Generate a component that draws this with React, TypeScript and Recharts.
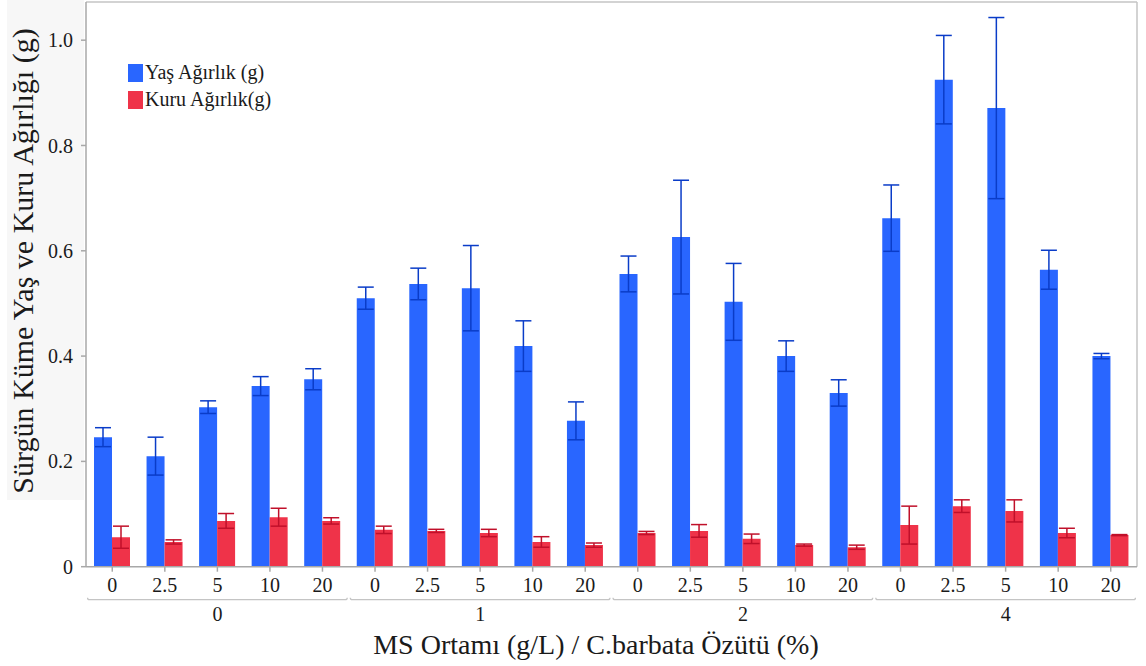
import { Bar, BarChart, CartesianGrid, ErrorBar, Label, Legend, XAxis, YAxis } from 'recharts';

const groups = ['0', '1', '2', '4'];
const extracts = ['0', '2.5', '5', '10', '20'];

const wetWeight = [
  0.246, 0.21, 0.303, 0.343, 0.356,
  0.51, 0.537, 0.529, 0.419, 0.277,
  0.556, 0.626, 0.503, 0.4, 0.33,
  0.662, 0.925, 0.871, 0.564, 0.4,
];
const wetError = [
  0.018, 0.036, 0.012, 0.018, 0.02,
  0.021, 0.03, 0.081, 0.048, 0.036,
  0.034, 0.108, 0.073, 0.029, 0.025,
  0.063, 0.084, 0.172, 0.037, 0.005,
];
const dryWeight = [
  0.056, 0.047, 0.087, 0.094, 0.087,
  0.07, 0.068, 0.064, 0.047, 0.041,
  0.064, 0.068, 0.053, 0.041, 0.037,
  0.079, 0.115, 0.106, 0.064, 0.06,
];
const dryError = [
  0.021, 0.004, 0.014, 0.017, 0.006,
  0.007, 0.003, 0.007, 0.01, 0.004,
  0.003, 0.012, 0.009, 0.002, 0.004,
  0.036, 0.012, 0.021, 0.009, 0.001,
];

const yTicks = [0, 0.2, 0.4, 0.6, 0.8, 1.0];
const seriesOrder = ['wet', 'dry'];

const WIDTH = 1146;
const HEIGHT = 666;
const LEFT = 86;
const RIGHT = 9;
const PLOT_W = WIDTH - LEFT - RIGHT;
const BAND = PLOT_W / (groups.length * extracts.length);
const FONT = '"Liberation Serif", "Times New Roman", serif';
const TEXT = '#1a1a1a';
const FRAME = '#c4c4c4';

const rows = groups.flatMap((g, gi) =>
  extracts.map((e, ei) => {
    const i = gi * extracts.length + ei;
    return {
      id: `${g}-${e}`,
      group: g,
      extract: e,
      wet: wetWeight[i],
      wetErr: wetError[i],
      dry: dryWeight[i],
      dryErr: dryError[i],
    };
  }),
);

function XTick(props: any) {
  const { x, y, payload } = props;
  const i = payload.index;
  const row = rows[i];
  const pos = i % extracts.length;
  const x0 = x - BAND / 2 + 1.5;
  const x1 = x - BAND / 2 + BAND * extracts.length - 1.5;
  const by = y + 28;
  return (
    <g>
      <text x={x} y={y + 20} textAnchor="middle" fontFamily={FONT} fontSize={20} fill={TEXT}>
        {row.extract}
      </text>
      {pos === 0 && (
        <path
          d={`M${x0},${by - 2} Q${x0},${by} ${x0 + 2},${by} L${x1 - 2},${by} Q${x1},${by} ${x1},${by - 2}`}
          fill="none"
          stroke={FRAME}
          strokeWidth={1.2}
        />
      )}
      {pos === 2 && (
        <text x={x} y={y + 49} textAnchor="middle" fontFamily={FONT} fontSize={20} fill={TEXT}>
          {row.group}
        </text>
      )}
    </g>
  );
}

function LegendBox(props: any) {
  const items = [...(props.payload || [])].sort(
    (a: any, b: any) => seriesOrder.indexOf(a.dataKey) - seriesOrder.indexOf(b.dataKey),
  );
  return (
    <div style={{ fontFamily: FONT, fontSize: 20, color: TEXT }}>
      {items.map((entry: any) => (
        <div key={entry.value} style={{ display: 'flex', alignItems: 'center', height: 27 }}>
          <span style={{ display: 'inline-block', width: 15, height: 18, background: entry.color, marginRight: 2 }} />
          <span>{entry.value}</span>
        </div>
      ))}
    </div>
  );
}

export default function App() {
  return (
    <div style={{ position: 'fixed', left: 0, top: 0, width: WIDTH, height: HEIGHT, background: '#fff' }}>
      <div style={{ position: 'absolute', left: 7, top: 0, width: 77, height: 500, background: '#f7f7f7' }} />
      <div style={{ position: 'absolute', left: 0, top: 0 }}>
        <BarChart
          width={WIDTH}
          height={HEIGHT}
          data={rows}
          margin={{ top: 2, right: RIGHT, bottom: 0, left: 0 }}
          barSize={18}
          barGap={0}
        >
          <CartesianGrid
            stroke={FRAME}
            strokeWidth={1.5}
            horizontalCoordinatesGenerator={({ offset }: any) => [offset.top]}
            verticalCoordinatesGenerator={({ offset }: any) => [offset.left + offset.width]}
          />
          <XAxis
            dataKey="id"
            interval={0}
            height={99.3}
            tickSize={5}
            tickMargin={0}
            stroke="#a8a8a8"
            strokeWidth={1.5}
            tick={<XTick />}
          >
            <Label
              value="MS Ortamı (g/L) / C.barbata Özütü (%)"
              content={() => (
                <text x={596} y={654} textAnchor="middle" fontFamily={FONT} fontSize={28} fill={TEXT}>
                  MS Ortamı (g/L) / C.barbata Özütü (%)
                </text>
              )}
            />
          </XAxis>
          <YAxis
            width={LEFT}
            domain={[0, 1.0725]}
            ticks={yTicks}
            allowDataOverflow
            tickSize={5}
            tickMargin={8}
            stroke="#a8a8a8"
            strokeWidth={1.5}
            tick={{ fontFamily: FONT, fontSize: 20, fill: TEXT }}
            tickFormatter={(v: number) => (v === 0 ? '0' : v.toFixed(1))}
          >
            <Label
              value="Sürgün Küme Yaş ve Kuru Ağırlığı (g)"
              content={() => (
                <text
                  x={33}
                  y={261}
                  transform="rotate(-90, 33, 261)"
                  textAnchor="middle"
                  fontFamily={FONT}
                  fontSize={30}
                  fill={TEXT}
                >
                  Sürgün Küme Yaş ve Kuru Ağırlığı (g)
                </text>
              )}
            />
          </YAxis>
          <Legend
            layout="vertical"
            align="center"
            verticalAlign="middle"
            content={<LegendBox />}
            wrapperStyle={{ left: 128, top: 59, width: 220 }}
          />
          <Bar dataKey="wet" name="Yaş Ağırlık (g)" fill="#2966ff" isAnimationActive={false}>
            <ErrorBar dataKey="wetErr" width={8} stroke="#0a3cc8" strokeWidth={1.5} isAnimationActive={false} />
          </Bar>
          <Bar dataKey="dry" name="Kuru Ağırlık(g)" fill="#ef3349" isAnimationActive={false}>
            <ErrorBar dataKey="dryErr" width={8} stroke="#c0102a" strokeWidth={1.5} isAnimationActive={false} />
          </Bar>
        </BarChart>
      </div>
    </div>
  );
}
